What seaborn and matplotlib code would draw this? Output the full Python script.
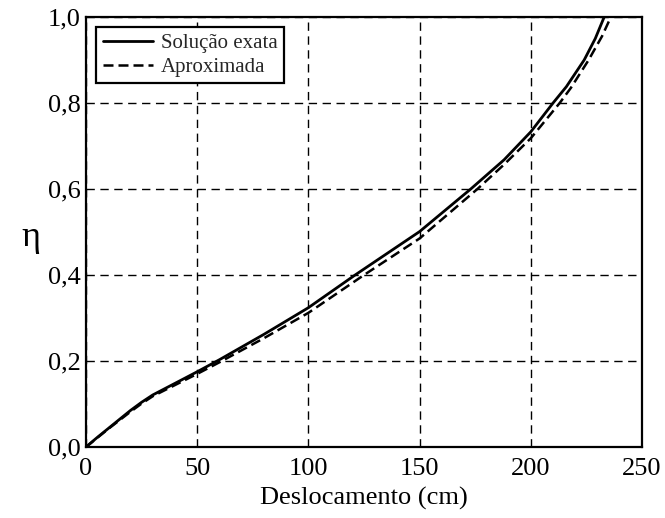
import matplotlib
matplotlib.use("Agg")
import matplotlib.pyplot as plt
import seaborn as sns
import pandas as pd
from matplotlib.ticker import FuncFormatter

# Displacement (cm) and efficiency for the exact and approximate solutions
x_exata = [0, 5, 10, 15, 20, 25, 30, 40, 50, 60, 80, 100, 121, 150, 173, 188, 200,
           210, 216, 224, 229, 233]
y_exata = [0, 0.022, 0.043, 0.064, 0.085, 0.104, 0.121, 0.148, 0.175, 0.203, 0.262, 0.324,
           0.4, 0.501, 0.6, 0.668, 0.733, 0.8, 0.838, 0.9, 0.95, 1.0]

x_aprox = [0, 5, 10, 15, 20, 25, 30, 40, 50, 60, 80, 100, 125, 150, 176, 188, 200,
           213, 218, 226, 232, 236]
y_aprox = [0, 0.021, 0.042, 0.062, 0.082, 0.101, 0.118, 0.144, 0.17, 0.197, 0.253, 0.312,
           0.4, 0.485, 0.6, 0.657, 0.718, 0.8, 0.835, 0.9, 0.955, 1.0]

x_ticks = [0, 50, 100, 150, 200, 250]
y_ticks = [0.0, 0.2, 0.4, 0.6, 0.8, 1.0]

sns.set_style("ticks")
plt.rcParams["font.family"] = ["Liberation Serif", "DejaVu Serif"]

df_exata = pd.DataFrame({"x": x_exata, "y": y_exata})
df_aprox = pd.DataFrame({"x": x_aprox, "y": y_aprox})

fig = plt.figure(figsize=(6.65, 5.18), dpi=100)
ax = fig.add_axes([86 / 665, 1 - 447 / 518, (642 - 86) / 665, (447 - 17) / 518])

sns.lineplot(data=df_exata, x="x", y="y", ax=ax, color="black", lw=2.0,
             sort=False, label="Solução exata")
sns.lineplot(data=df_aprox, x="x", y="y", ax=ax, color="black", lw=1.8,
             sort=False, label="Aproximada", linestyle=(0, (4, 2)))

ax.set_xlim(0, 250)
ax.set_ylim(0, 1.0)
ax.set_xticks(x_ticks)
ax.set_yticks(y_ticks)
ax.xaxis.set_major_formatter(FuncFormatter(lambda v, p: f"{v:.0f}"))
ax.yaxis.set_major_formatter(FuncFormatter(lambda v, p: f"{v:.1f}".replace(".", ",")))
ax.tick_params(direction="in", length=0, labelsize=19, colors="black")
ax.tick_params(axis="x", pad=8)
ax.tick_params(axis="y", pad=4)

ax.grid(True, color="black", linestyle=(0, (6, 4)), linewidth=1.0)
for s in ax.spines.values():
    s.set_color("black")
    s.set_linewidth(1.6)

ax.set_xlabel("Deslocamento (cm)", fontsize=19, color="black", labelpad=5)
ax.set_ylabel("η", fontsize=26, color="black", rotation=0)
ax.yaxis.set_label_coords(-0.1, 0.45)

leg = ax.legend(loc="upper left", fontsize=15, frameon=True, fancybox=False,
                handlelength=2.4, borderpad=0.3, labelspacing=0.2,
                handletextpad=0.4, borderaxespad=0.5)
leg.get_frame().set_edgecolor("black")
leg.get_frame().set_linewidth(1.6)
leg.get_frame().set_alpha(1)

fig.savefig("out.png", dpi=100)
